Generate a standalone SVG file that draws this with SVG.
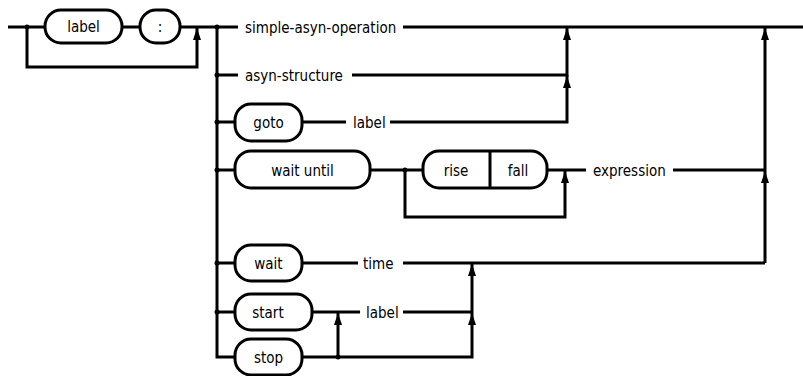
<svg xmlns="http://www.w3.org/2000/svg" width="803" height="376" viewBox="0 0 803 376">
<style>
.ln{fill:none;stroke:#000;stroke-width:3;stroke-linecap:butt;stroke-linejoin:miter}
.bx{fill:#fff;stroke:#000;stroke-width:3}
.t{font-family:"DejaVu Sans Condensed","DejaVu Sans",sans-serif;font-size:15px;fill:#000;text-anchor:middle}
.tl{font-family:"DejaVu Sans Condensed","DejaVu Sans",sans-serif;font-size:15px;fill:#000;text-anchor:start}
</style>
<defs>
<path id="arr" d="M0,0 L-4,12 L4,12 Z" fill="#000"/>
<circle id="dot" r="2.5" fill="#000"/>
</defs>
<rect width="803" height="376" fill="#fff"/>
<g id="connectors">
<path class="ln" d="M8,27 H45 M122,27 H140 M180,27 H217 M27,27 V67 H197 V28"/>
<path class="ln" d="M217,27 V357 H235"/>
<path class="ln" d="M217,27 H238 M403,27 H803"/>
<path class="ln" d="M217,75 H238 M352,75 H567 V28"/>
<path class="ln" d="M217,122 H235 M302,122 H346 M390,122 H567 V75"/>
<path class="ln" d="M217,170 H235 M370,170 H423 M547,170 H586 M673,170 H765"/>
<path class="ln" d="M405,170 V217 H565 V171"/>
<path class="ln" d="M765,263 V28"/>
<path class="ln" d="M217,263 H235 M302,263 H358 M403,263 H765"/>
<path class="ln" d="M217,312 H235 M312,312 H360 M403,312 H472"/>
<path class="ln" d="M302,357 H472 V264 M338,357 V313"/>
<use href="#arr" x="197" y="28"/>
<use href="#arr" x="567" y="28"/>
<use href="#arr" x="567" y="76"/>
<use href="#arr" x="565" y="171"/>
<use href="#arr" x="765" y="28"/>
<use href="#arr" x="765" y="171"/>
<use href="#arr" x="472" y="264"/>
<use href="#arr" x="472" y="313"/>
<use href="#arr" x="338" y="313"/>
<use href="#dot" x="27" y="27"/>
<use href="#dot" x="217" y="27"/>
<use href="#dot" x="217" y="75"/>
<use href="#dot" x="217" y="122"/>
<use href="#dot" x="217" y="170"/>
<use href="#dot" x="217" y="263"/>
<use href="#dot" x="217" y="312"/>
<use href="#dot" x="405" y="170"/>
<use href="#dot" x="338" y="357"/>
</g>
<g id="n-label">
<rect class="bx" x="45" y="10" width="77" height="33" rx="16"/>
<text class="t" x="83.5" y="32">label</text>
</g>
<g id="n-colon">
<rect class="bx" x="140" y="10" width="40" height="33" rx="16"/>
<text class="t" x="160" y="32">:</text>
</g>
<g id="n-simple">
<text class="tl" x="245" y="32.5">simple-asyn-operation</text>
</g>
<g id="n-asyn">
<text class="tl" x="245" y="80.5">asyn-structure</text>
</g>
<g id="n-goto">
<rect class="bx" x="235" y="104" width="67" height="37" rx="16"/>
<text class="t" x="268.5" y="127.5">goto</text>
</g>
<g id="n-goto-label">
<text class="tl" x="353" y="127.5">label</text>
</g>
<g id="n-waituntil">
<rect class="bx" x="235" y="151" width="135" height="37" rx="16"/>
<text class="t" x="302.5" y="175.5">wait until</text>
</g>
<g id="n-risefall">
<rect class="bx" x="423" y="151" width="124" height="37" rx="16"/>
<line class="ln" x1="490" y1="151" x2="490" y2="188"/>
<text class="t" x="456" y="175.5">rise</text>
<text class="t" x="518" y="175.5">fall</text>
</g>
<g id="n-expression">
<text class="tl" x="593" y="175.5">expression</text>
</g>
<g id="n-wait">
<rect class="bx" x="235" y="245" width="67" height="36" rx="16"/>
<text class="t" x="268.5" y="268.5">wait</text>
</g>
<g id="n-time">
<text class="tl" x="363" y="268.5">time</text>
</g>
<g id="n-start">
<rect class="bx" x="235" y="294" width="77" height="36" rx="16"/>
<text class="t" x="268" y="317.5">start</text>
</g>
<g id="n-start-label">
<text class="tl" x="366" y="317.5">label</text>
</g>
<g id="n-stop">
<rect class="bx" x="235" y="339" width="67" height="36" rx="16"/>
<text class="t" x="268.5" y="362.5">stop</text>
</g>
</svg>
